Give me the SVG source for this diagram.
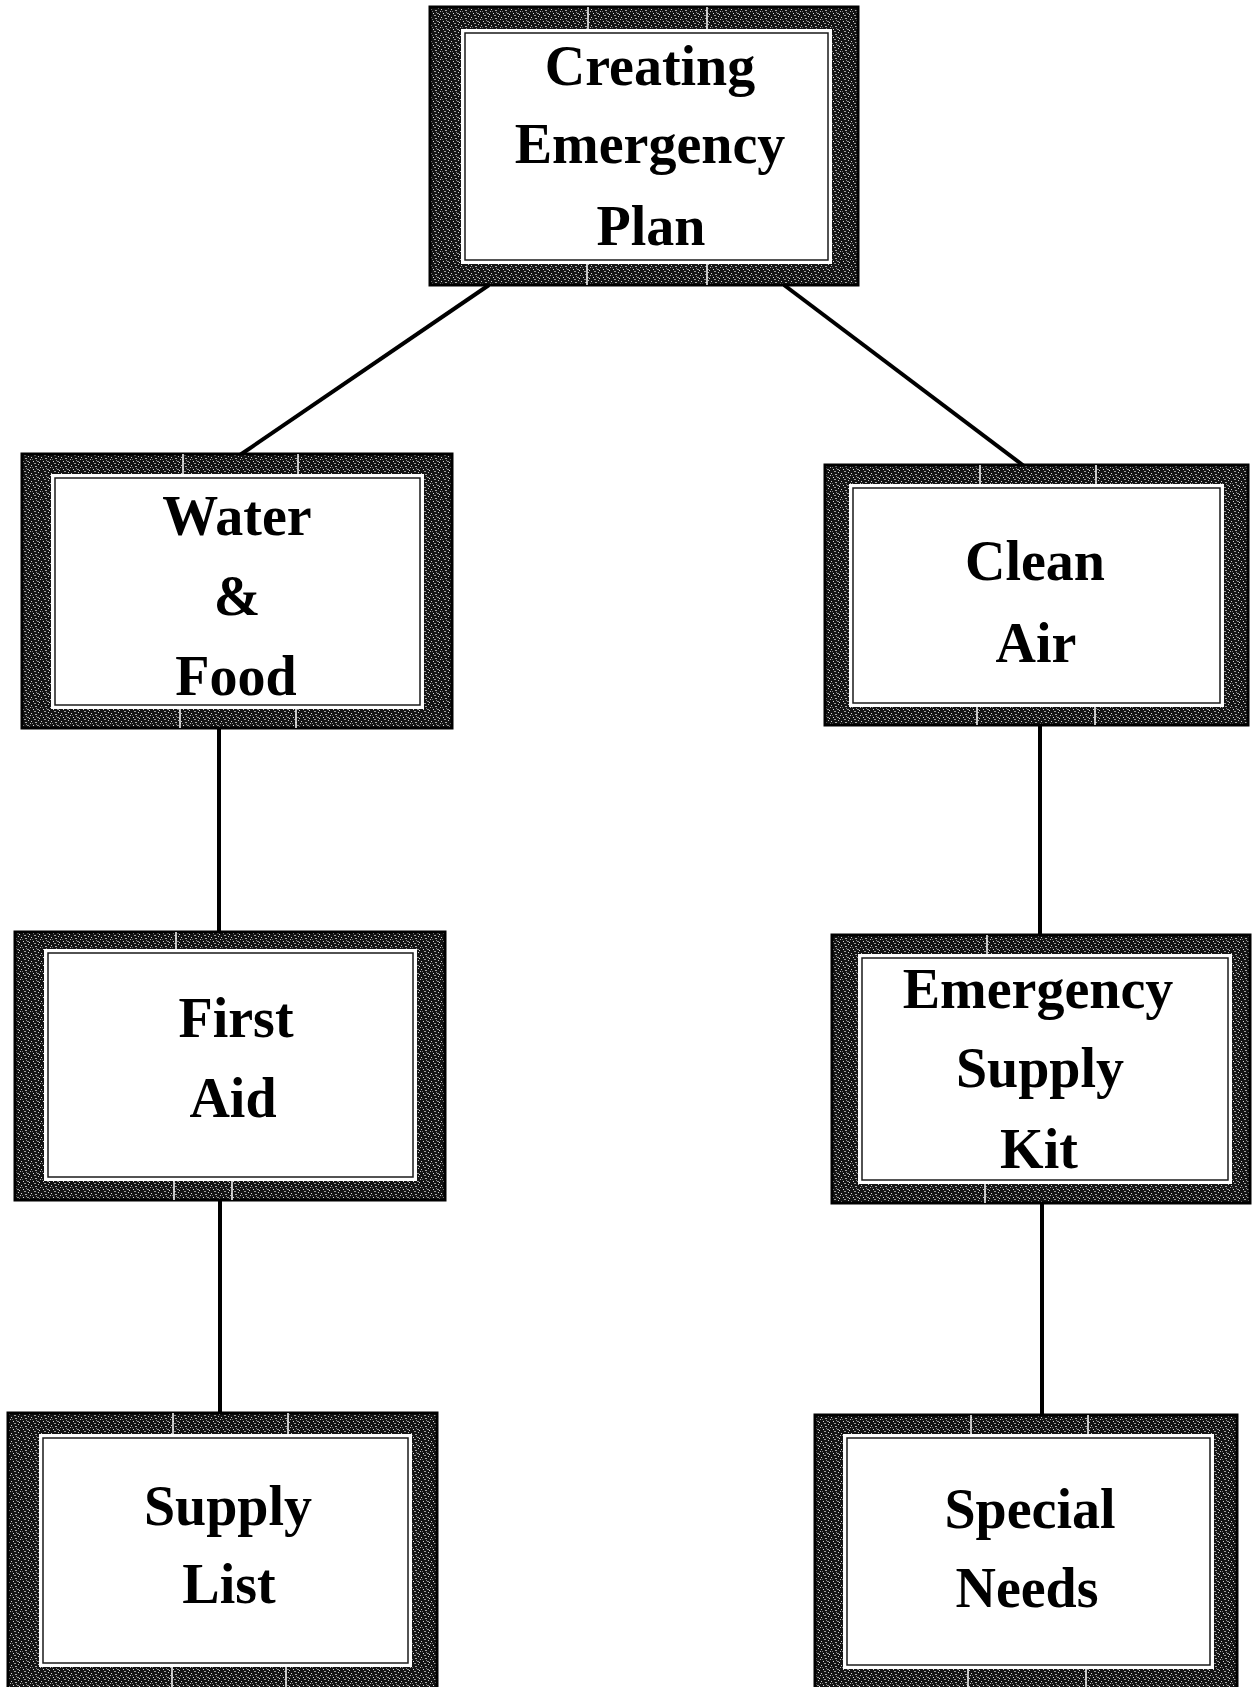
<svg xmlns="http://www.w3.org/2000/svg" width="1256" height="1687" viewBox="0 0 1256 1687">
<defs>
<pattern id="tex" width="10" height="8" patternUnits="userSpaceOnUse">
<rect width="10" height="8" fill="#141414"/>
<rect x="1" y="1" width="1" height="1" fill="#d0d0d0"/>
<rect x="5" y="2" width="2" height="1" fill="#a8a8a8"/>
<rect x="3" y="5" width="1" height="1" fill="#e0e0e0"/>
<rect x="7" y="5" width="2" height="1" fill="#909090"/>
<rect x="0" y="3" width="1" height="1" fill="#bbb"/>
<rect x="8" y="0" width="1" height="1" fill="#c8c8c8"/>
<rect x="4" y="7" width="2" height="1" fill="#9a9a9a"/>
<rect x="2" y="3" width="1" height="1" fill="#777"/>
<rect x="9" y="6" width="1" height="1" fill="#ddd"/>
<rect x="6" y="4" width="1" height="1" fill="#888"/>
</pattern>
</defs>
<style>
.frame{fill:url(#tex);stroke:#000;stroke-width:3}
.gap{fill:#fff}
.inner{fill:#fff;stroke:#1a1a1a;stroke-width:1.5}
.div{stroke:#fff;stroke-width:1.5}
.lbl{font-family:"Liberation Serif","Times New Roman",serif;font-weight:bold;font-size:56px;fill:#000;text-anchor:middle}
.conn{stroke:#000;stroke-width:4;fill:none}
</style>
<rect width="1256" height="1687" fill="#fff"/>
<g id="connectors">
<line class="conn" x1="489" y1="285" x2="240" y2="455"/>
<line class="conn" x1="784" y1="285" x2="1024" y2="466"/>
<line class="conn" x1="219" y1="728" x2="219" y2="932"/>
<line class="conn" x1="220" y1="1200" x2="220" y2="1413"/>
<line class="conn" x1="1040" y1="725" x2="1040" y2="935"/>
<line class="conn" x1="1042" y1="1203" x2="1042" y2="1415"/>
</g>
<g id="node-plan">
<rect class="frame" x="430" y="7" width="428" height="278"/>
<line class="div" x1="588" y1="7" x2="588" y2="33"/><line class="div" x1="707" y1="7" x2="707" y2="33"/>
<line class="div" x1="587" y1="260" x2="587" y2="285"/><line class="div" x1="707" y1="260" x2="707" y2="285"/>
<rect class="gap" x="461" y="29" width="371" height="235"/>
<rect class="inner" x="465" y="33" width="363" height="227"/>
<text class="lbl" x="650" y="85">Creating</text>
<text class="lbl" x="650" y="163">Emergency</text>
<text class="lbl" x="651" y="245">Plan</text>
</g>
<g id="node-water">
<rect class="frame" x="22" y="454" width="430" height="274"/>
<line class="div" x1="183" y1="454" x2="183" y2="478"/><line class="div" x1="298" y1="454" x2="298" y2="478"/>
<line class="div" x1="180" y1="705" x2="180" y2="728"/><line class="div" x1="296" y1="705" x2="296" y2="728"/>
<rect class="gap" x="51" y="474" width="373" height="235"/>
<rect class="inner" x="55" y="478" width="365" height="227"/>
<text class="lbl" x="237" y="535">Water</text>
<text class="lbl" x="237" y="615">&amp;</text>
<text class="lbl" x="236" y="695">Food</text>
</g>
<g id="node-air">
<rect class="frame" x="825" y="465" width="423" height="260"/>
<line class="div" x1="980" y1="465" x2="980" y2="488"/><line class="div" x1="1096" y1="465" x2="1096" y2="488"/>
<line class="div" x1="977" y1="703" x2="977" y2="725"/><line class="div" x1="1095" y1="703" x2="1095" y2="725"/>
<rect class="gap" x="849" y="484" width="375" height="223"/>
<rect class="inner" x="853" y="488" width="367" height="215"/>
<text class="lbl" x="1035" y="580">Clean</text>
<text class="lbl" x="1036" y="662">Air</text>
</g>
<g id="node-firstaid">
<rect class="frame" x="15" y="932" width="430" height="268"/>
<line class="div" x1="176" y1="932" x2="176" y2="953"/>
<line class="div" x1="174" y1="1177" x2="174" y2="1200"/><line class="div" x1="232" y1="1177" x2="232" y2="1200"/>
<rect class="gap" x="44" y="949" width="373" height="232"/>
<rect class="inner" x="48" y="953" width="365" height="224"/>
<text class="lbl" x="236" y="1037">First</text>
<text class="lbl" x="233" y="1117">Aid</text>
</g>
<g id="node-kit">
<rect class="frame" x="832" y="935" width="418" height="268"/>
<line class="div" x1="987" y1="935" x2="987" y2="958"/>
<line class="div" x1="985" y1="1180" x2="985" y2="1203"/>
<rect class="gap" x="858" y="954" width="374" height="230"/>
<rect class="inner" x="862" y="958" width="366" height="222"/>
<text class="lbl" x="1038" y="1008">Emergency</text>
<text class="lbl" x="1040" y="1087">Supply</text>
<text class="lbl" x="1039" y="1168">Kit</text>
</g>
<g id="node-supplylist">
<rect class="frame" x="8" y="1413" width="429" height="282"/>
<line class="div" x1="173" y1="1413" x2="173" y2="1438"/><line class="div" x1="288" y1="1413" x2="288" y2="1438"/>
<line class="div" x1="172" y1="1663" x2="172" y2="1687"/><line class="div" x1="286" y1="1663" x2="286" y2="1687"/>
<rect class="gap" x="39" y="1434" width="373" height="233"/>
<rect class="inner" x="43" y="1438" width="365" height="225"/>
<text class="lbl" x="228" y="1525">Supply</text>
<text class="lbl" x="229" y="1603">List</text>
</g>
<g id="node-special">
<rect class="frame" x="815" y="1415" width="422" height="282"/>
<line class="div" x1="971" y1="1415" x2="971" y2="1438"/><line class="div" x1="1088" y1="1415" x2="1088" y2="1438"/>
<line class="div" x1="968" y1="1665" x2="968" y2="1687"/><line class="div" x1="1086" y1="1665" x2="1086" y2="1687"/>
<rect class="gap" x="843" y="1434" width="371" height="235"/>
<rect class="inner" x="847" y="1438" width="363" height="227"/>
<text class="lbl" x="1030" y="1528">Special</text>
<text class="lbl" x="1027" y="1607">Needs</text>
</g>
</svg>
